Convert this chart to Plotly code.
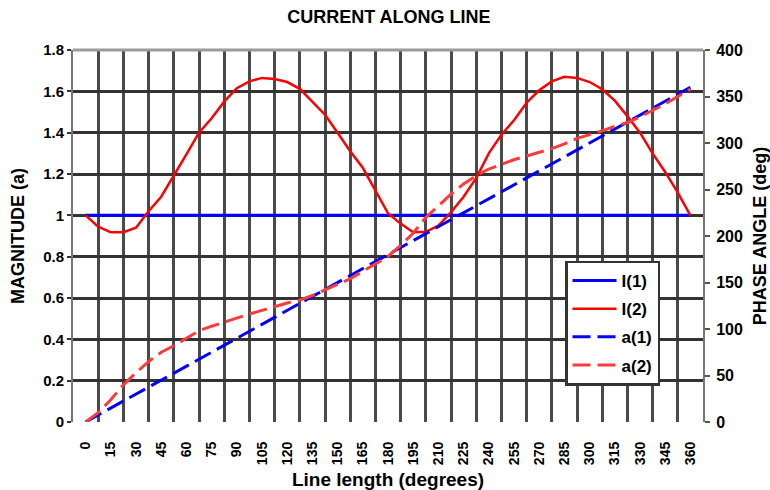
import plotly.graph_objects as go

# Line position (electrical degrees)
angle_15 = [0, 15, 30, 45, 60, 75, 90, 105, 120, 135, 150, 165, 180,
            195, 210, 225, 240, 255, 270, 285, 300, 315, 330, 345, 360]
angle_7 = [0, 7.5, 15, 22.5, 30, 37.5, 45, 52.5, 60, 67.5, 75, 82.5, 90,
           97.5, 105, 112.5, 120, 127.5, 135, 142.5, 150, 157.5, 165, 172.5, 180,
           187.5, 195, 202.5, 210, 217.5, 225, 232.5, 240, 247.5, 255, 262.5, 270,
           277.5, 285, 292.5, 300, 307.5, 315, 322.5, 330, 337.5, 345, 352.5, 360]

# Matched line: constant magnitude, phase equal to length
I1 = [1.0, 1.0, 1.0, 1.0, 1.0, 1.0, 1.0, 1.0, 1.0, 1.0, 1.0, 1.0, 1.0,
      1.0, 1.0, 1.0, 1.0, 1.0, 1.0, 1.0, 1.0, 1.0, 1.0, 1.0, 1.0]
a1 = [0, 15, 30, 45, 60, 75, 90, 105, 120, 135, 150, 165, 180,
      195, 210, 225, 240, 255, 270, 285, 300, 315, 330, 345, 360]

# Mismatched line: standing-wave magnitude and phase
I2 = [1.00, 0.945, 0.918, 0.918, 0.94, 1.02, 1.09, 1.19, 1.295, 1.40, 1.47, 1.55, 1.615,
      1.648, 1.665, 1.66, 1.645, 1.612, 1.548, 1.487, 1.40, 1.31, 1.23, 1.12, 1.01,
      0.96, 0.918, 0.92, 0.95, 1.015, 1.09, 1.18, 1.30, 1.39, 1.46, 1.545, 1.605,
      1.648, 1.67, 1.665, 1.645, 1.61, 1.555, 1.48, 1.40, 1.30, 1.21, 1.11, 1.00]
a2 = [0, 10, 24, 40, 53, 65, 75, 82, 90, 98, 103, 107.5, 112,
      116, 120, 124, 128, 131, 136, 142, 148, 154, 162, 170, 178,
      190, 203, 220, 233, 245, 256, 265, 272, 277, 282, 286, 290,
      294, 299, 305, 309, 313, 318, 322, 328, 335, 342, 350, 358]

mag_ticks = [0, 0.2, 0.4, 0.6, 0.8, 1, 1.2, 1.4, 1.6, 1.8]
mag_text = ["0", "0.2", "0.4", "0.6", "0.8", "1", "1.2", "1.4", "1.6", "1.8"]
phase_ticks = [0, 50, 100, 150, 200, 250, 300, 350, 400]

FONT = "Arial, Liberation Sans, sans-serif"
HGRID = "#333333"
VGRID = "#4a4a4a"
DASH = "18px,7px"

fig = go.Figure()
fig.add_trace(go.Scatter(x=angle_15, y=I1, name="<b>I(1)</b>", mode="lines",
                         line=dict(color="#0000ff", width=3), yaxis="y",
                         legendgroup="g1"))
fig.add_trace(go.Scatter(x=angle_7, y=I2, name="<b>I(2)</b>", mode="lines",
                         line=dict(color="#ff0000", width=2.5), yaxis="y",
                         legendgroup="g2"))
fig.add_trace(go.Scatter(x=angle_15, y=a1, name="<b>a(1)</b>", mode="lines",
                         line=dict(color="#0000ff", width=3, dash=DASH), yaxis="y2",
                         legendgroup="g3"))
fig.add_trace(go.Scatter(x=angle_7, y=a2, name="<b>a(2)</b>", mode="lines",
                         line=dict(color="#ff3a3a", width=3, dash=DASH), yaxis="y2",
                         legendgroup="g4"))

fig.update_layout(
    width=770, height=490,
    margin=dict(l=73, r=67, t=50, b=68, autoexpand=False),
    paper_bgcolor="white", plot_bgcolor="white",
    font=dict(family=FONT, color="black"),
    title=dict(text="<b>CURRENT ALONG LINE</b>", x=0.505, xanchor="center",
               y=0.965, yanchor="middle", font=dict(size=18, family=FONT)),
    xaxis=dict(
        range=[-7.5, 367.5], tickmode="array", tickvals=angle_15,
        ticktext=[f"<b>{v}</b>" for v in angle_15],
        tickangle=-90, tickfont=dict(size=14), showgrid=False, zeroline=False,
        ticks="", ticklabelstandoff=16, automargin=False,
        minor=dict(tick0=7.5, dtick=15, showgrid=True, gridcolor=VGRID, gridwidth=2.5),
        showline=False,
        title=dict(text="<b>Line length (degrees)</b>", font=dict(size=19), standoff=12),
    ),
    yaxis=dict(
        range=[0, 1.8], tickmode="array", tickvals=mag_ticks,
        ticktext=[f"<b>{t}</b>" for t in mag_text], tickfont=dict(size=15),
        showgrid=True, gridcolor=HGRID, gridwidth=2.5, zeroline=False,
        ticks="outside", ticklen=4, tickcolor=HGRID, tickwidth=2,
        showline=True, linecolor="#777", linewidth=2, automargin=False,
        title=dict(text="<b>MAGNITUDE (a)</b>", font=dict(size=18), standoff=14),
    ),
    yaxis2=dict(
        range=[0, 400], overlaying="y", side="right", tickmode="array",
        tickvals=phase_ticks, ticktext=[f"<b>{v}</b>" for v in phase_ticks],
        tickfont=dict(size=16), showgrid=False, zeroline=False,
        ticks="outside", ticklen=5, tickcolor="#555", tickwidth=2,
        showline=True, linecolor="#777", linewidth=2, ticklabelstandoff=3,
        automargin=False,
        title=dict(text="<b>PHASE ANGLE (deg)</b>", font=dict(size=18), standoff=14),
    ),
    legend=dict(x=0.781, y=0.434, xanchor="left", yanchor="top",
                bgcolor="white", bordercolor="#333", borderwidth=2.5,
                font=dict(size=17, family=FONT), itemwidth=44,
                tracegroupgap=3, entrywidth=100, entrywidthmode="pixels"),
    showlegend=True,
    # light frame line along the top of the plotting area
    shapes=[dict(type="line", xref="paper", yref="paper", x0=0, x1=1, y0=1, y1=1,
                 line=dict(color="#9a9a9a", width=3), layer="above")],
)

fig.write_html("out.html")
